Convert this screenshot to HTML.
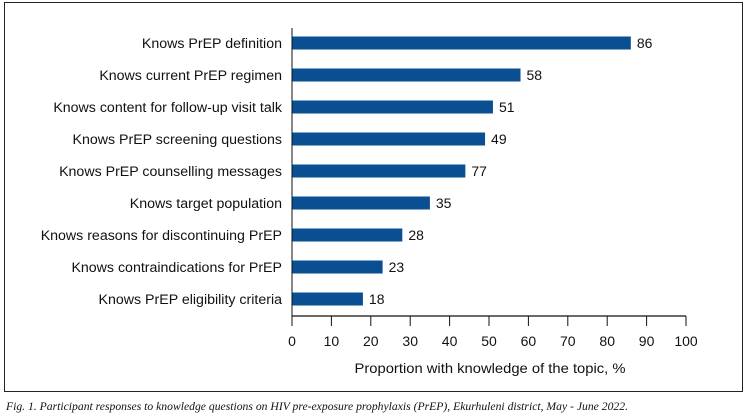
<!DOCTYPE html>
<html><head><meta charset="utf-8"><style>
html,body{margin:0;padding:0;background:#fff;width:745px;height:418px;overflow:hidden}
svg{display:block;font-family:"Liberation Sans",sans-serif}
</style></head><body>
<svg id="chart" width="745" height="418">
<rect x="4.5" y="2.5" width="738" height="389" fill="none" stroke="#222" stroke-width="1"/>
<g id="plot"></g>
<text x="490" y="373" text-anchor="middle" font-size="14" fill="#111" textLength="271" lengthAdjust="spacingAndGlyphs">Proportion with knowledge of the topic, %</text>
<text x="6" y="410" font-family="Liberation Serif,serif" font-style="italic" font-size="11.5" fill="#111" textLength="622" lengthAdjust="spacingAndGlyphs">Fig. 1. Participant responses to knowledge questions on HIV pre-exposure prophylaxis (PrEP), Ekurhuleni district, May - June 2022.</text>
</svg>
<script>
const categories = ["Knows PrEP definition","Knows current PrEP regimen","Knows content for follow-up visit talk","Knows PrEP screening questions","Knows PrEP counselling messages","Knows target population","Knows reasons for discontinuing PrEP","Knows contraindications for PrEP","Knows PrEP eligibility criteria"];
const values = [86,58,51,49,44,35,28,23,18];
const valueLabels = ["86","58","51","49","77","35","28","23","18"];
const ticks = [0,10,20,30,40,50,60,70,80,90,100];

const NS="http://www.w3.org/2000/svg";
const g=document.getElementById('plot');
const x0=292,x1=686,axisY=316,top0=43,step=32,barH=13;
const xs=v=>x0+(v/100)*(x1-x0);
const ys=i=>top0+i*step;
function mk(t,a){const e=document.createElementNS(NS,t);for(const k in a)e.setAttribute(k,a[k]);g.appendChild(e);return e;}
categories.forEach((c,i)=>{
  const y=ys(i);
  const lab=mk('text',{x:282,y:y+5,'text-anchor':'end','font-size':14.2,fill:'#111'});
  lab.textContent=c;
  
  
  const r=mk('rect',{x:x0,y:y-barH/2,width:xs(values[i])-x0,height:barH,fill:'#0b4f93'});
  
  
  const vl=mk('text',{x:xs(values[i])+6,y:y+5,'font-size':14,fill:'#111'});
  vl.textContent=valueLabels[i];
  
  
});
const yl=mk('line',{x1:x0,y1:28,x2:x0,y2:axisY,stroke:'#111','stroke-width':1});


const xl=mk('line',{x1:x0,y1:axisY,x2:x1,y2:axisY,stroke:'#111','stroke-width':1.2});


ticks.forEach(t=>{
  const tk=mk('line',{x1:xs(t),y1:axisY,x2:xs(t),y2:axisY+10,stroke:'#111','stroke-width':1});
  
  
  const tl=mk('text',{x:xs(t),y:346,'text-anchor':'middle','font-size':14,fill:'#111'});
  tl.textContent=t;
  
  
});
</script>
</body></html>
